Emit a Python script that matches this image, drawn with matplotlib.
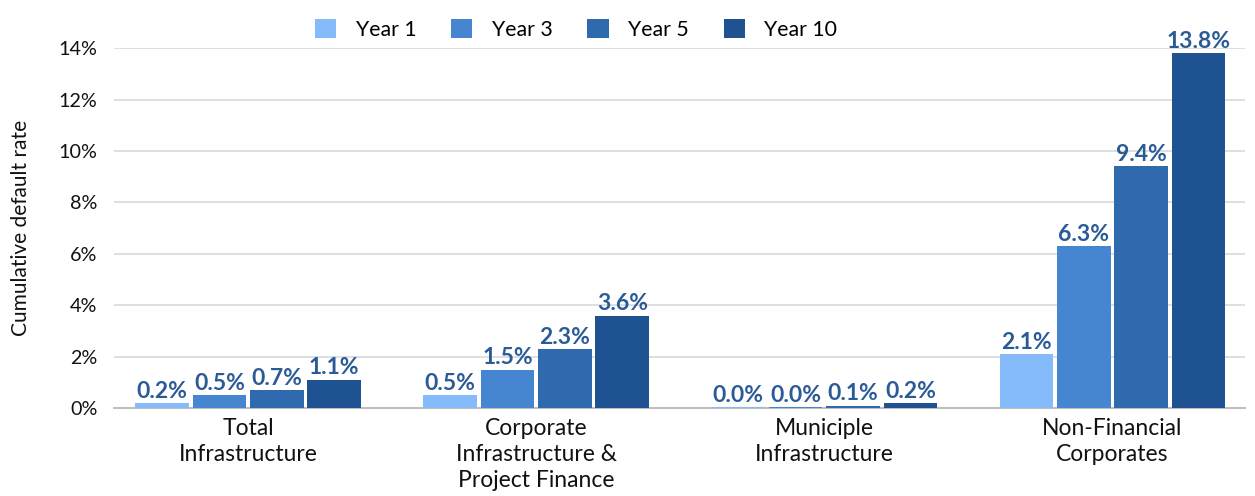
import matplotlib.pyplot as plt
import numpy as np

plt.rcParams['font.family'] = ['Lato', 'DejaVu Sans']

# Sectors and cumulative default rates (%)
sectors = ['Total\nInfrastructure', 'Corporate\nInfrastructure &\nProject Finance',
           'Municiple\nInfrastructure', 'Non-Financial\nCorporates']
years = ['Year 1', 'Year 3', 'Year 5', 'Year 10']
year1 = [0.2, 0.5, 0.04, 2.1]
year3 = [0.5, 1.5, 0.04, 6.3]
year5 = [0.7, 2.3, 0.1, 9.4]
year10 = [1.1, 3.6, 0.2, 13.8]

colors = ['#85bbfb', '#4686d0', '#2f6aae', '#1f5290']
label_color = '#2a5b97'

fig = plt.figure(figsize=(12.55, 4.96), dpi=100)
ax = fig.add_axes([0.091, 0.177, 0.901, 0.726])

x = np.arange(len(sectors))
pitch = 0.199
width = 0.186
for i, (name, vals) in enumerate(zip(years, [year1, year3, year5, year10])):
    pos = x + (i - 1.5) * pitch
    bars = ax.bar(pos, vals, width, color=colors[i], label=name, zorder=3)
    for b, v in zip(bars, vals):
        ax.text(b.get_x() + b.get_width() / 2, v + 0.06, f'{v:.1f}%',
                ha='center', va='bottom', fontsize=16.5, fontweight='bold',
                color=label_color, zorder=4)

ax.set_xlim(-0.465, 3.46)
ax.set_ylim(0, 14)
ax.set_yticks(np.arange(0, 15, 2))
ax.set_yticklabels([f'{t}%' for t in range(0, 15, 2)])
ax.set_xticks(x)
ax.set_xticklabels(sectors, fontsize=16.5, color='#111111', linespacing=1.3)
ax.tick_params(axis='y', length=0, pad=12, labelsize=14.2, labelcolor='#111111')
ax.tick_params(axis='x', length=0, pad=7)

ax.grid(axis='y', color='#d9d9d9', linewidth=1.2, zorder=0)
for s in ['top', 'right', 'left']:
    ax.spines[s].set_visible(False)
ax.spines['bottom'].set_color('#bfbfbf')
ax.spines['bottom'].set_linewidth(1.5)

ax.set_ylabel('Cumulative default rate', fontsize=15, color='#111111', labelpad=20)

fig.legend(loc='upper center', bbox_to_anchor=(0.459, 1.0), ncol=4, frameon=False,
           fontsize=15.3, handlelength=1.0, handleheight=1.0, columnspacing=1.65,
           handletextpad=0.9)

fig.savefig('out.png', dpi=100)
